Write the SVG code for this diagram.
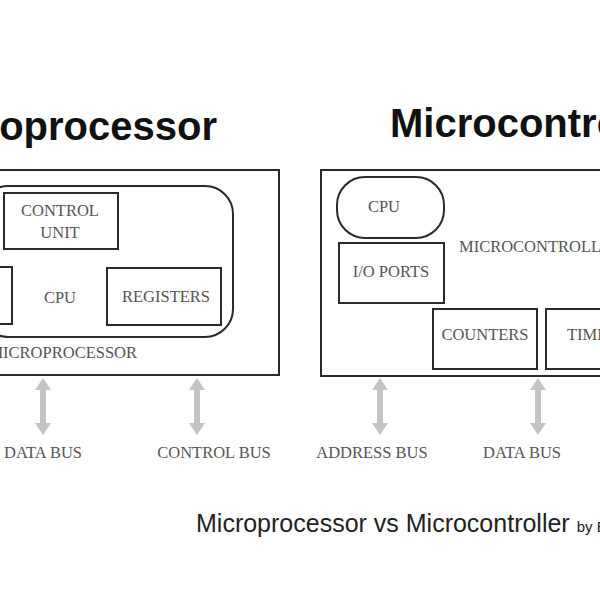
<svg xmlns="http://www.w3.org/2000/svg" width="600" height="600" viewBox="0 0 600 600">
<defs>
<style>
.title{font-family:"Liberation Sans",Arial,sans-serif;font-weight:bold;font-size:40px;fill:#111}
.box{fill:none;stroke:#2a2a2a;stroke-width:2}
.lbl{font-family:"Liberation Serif","Times New Roman",serif;font-size:16.5px;fill:#555}
.cap{font-family:"Liberation Sans",Arial,sans-serif;fill:#222}
.bus{fill:#c4c4c4}
</style>
<g id="dblarrow">
<polygon class="bus" points="0,0 8,12 3,12 3,45 8,45 0,57 -8,45 -3,45 -3,12 -8,12"/>
</g>
</defs>
<rect width="600" height="600" fill="#fff"/>

<text class="title" x="217" y="140" text-anchor="end">Microprocessor</text>
<text class="title" x="390" y="137">Microcontroller</text>

<g id="microprocessor">
<rect class="box" x="-10" y="170" width="289" height="205"/>
<text class="lbl" x="137" y="358" text-anchor="end">MICROPROCESSOR</text>
</g>
<g id="cpu-left">
<rect class="box" x="-20" y="186" width="253" height="151" rx="28"/>
<text class="lbl" x="60" y="303" text-anchor="middle">CPU</text>
</g>
<g id="control-unit">
<rect class="box" x="4" y="193" width="114" height="56"/>
<text class="lbl" x="60" y="216" text-anchor="middle">CONTROL</text>
<text class="lbl" x="60" y="238" text-anchor="middle">UNIT</text>
</g>
<g id="alu">
<rect class="box" x="-10" y="267" width="22" height="57"/>
</g>
<g id="registers">
<rect class="box" x="107" y="268" width="114" height="57"/>
<text class="lbl" x="166" y="302" text-anchor="middle">REGISTERS</text>
</g>

<g id="microcontroller">
<rect class="box" x="321" y="170" width="290" height="206"/>
<text class="lbl" x="459" y="252">MICROCONTROLLER</text>
</g>
<g id="cpu-right">
<rect class="box" x="337" y="177" width="107" height="61" rx="28"/>
<text class="lbl" x="384" y="212" text-anchor="middle">CPU</text>
</g>
<g id="io-ports">
<rect class="box" x="339" y="243" width="105" height="60"/>
<text class="lbl" x="391" y="277" text-anchor="middle">I/O PORTS</text>
</g>
<g id="counters">
<rect class="box" x="433" y="309" width="104" height="60"/>
<text class="lbl" x="485" y="340" text-anchor="middle">COUNTERS</text>
</g>
<g id="timers">
<rect class="box" x="546" y="309" width="70" height="60"/>
<text class="lbl" x="567" y="340">TIMERS</text>
</g>

<g id="connectors">
<use href="#dblarrow" x="43" y="378"/>
<use href="#dblarrow" x="197" y="378"/>
<use href="#dblarrow" x="380" y="378"/>
<use href="#dblarrow" x="538" y="378"/>
</g>

<g id="bus-labels">
<text class="lbl" x="82" y="458" text-anchor="end">DATA BUS</text>
<text class="lbl" x="214" y="458" text-anchor="middle">CONTROL BUS</text>
<text class="lbl" x="372" y="458" text-anchor="middle">ADDRESS BUS</text>
<text class="lbl" x="522" y="458" text-anchor="middle">DATA BUS</text>
</g>

<text class="cap" x="196" y="532" font-size="25">Microprocessor vs Microcontroller <tspan font-size="15">by Electronics</tspan></text>
</svg>
